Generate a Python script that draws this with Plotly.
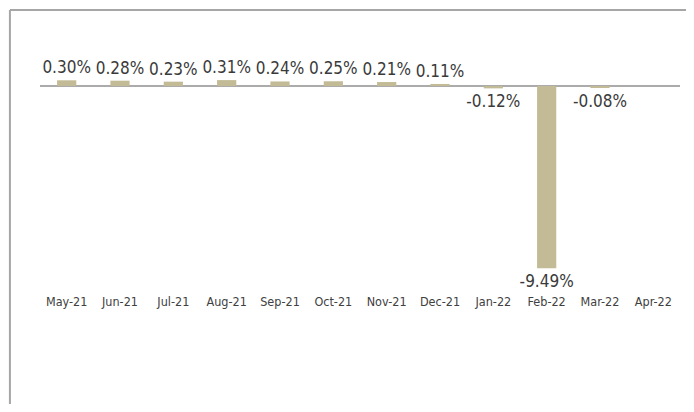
import plotly.graph_objects as go

months = ["May-21", "Jun-21", "Jul-21", "Aug-21", "Sep-21", "Oct-21",
          "Nov-21", "Dec-21", "Jan-22", "Feb-22", "Mar-22", "Apr-22"]
changes = [0.30, 0.28, 0.23, 0.31, 0.24, 0.25, 0.21, 0.11, -0.12, -9.49, -0.08, None]
labels = ["" if v is None else f"{v:.2f}%" for v in changes]

bar_color = "#c2bb95"
label_font = "DejaVu Sans Condensed"
border = dict(color="#a6a6a6", width=2)

fig = go.Figure()
fig.add_trace(go.Bar(
    x=months, y=changes,
    marker=dict(color=bar_color, line=dict(width=0)),
    width=0.36,
    text=labels,
    textposition="outside",
    constraintext="none",
    textfont=dict(family=label_font, size=17, color="#3a3a3a"),
    cliponaxis=False,
))

fig.update_layout(
    width=678, height=396,
    margin=dict(l=32, r=6, t=32, b=112),
    paper_bgcolor="white", plot_bgcolor="white",
    showlegend=False,
    xaxis=dict(showgrid=False, showline=False, ticks="",
               tickfont=dict(family=label_font, size=12.5, color="#404040"),
               fixedrange=True),
    yaxis=dict(range=[-10.73, 2.4], showgrid=False, showticklabels=False,
               zeroline=True, zerolinecolor="#ababab", zerolinewidth=2,
               fixedrange=True),
    shapes=[
        dict(type="line", xref="paper", yref="paper",
             x0=-0.047, x1=1.2, y0=1.119, y1=1.119, line=border),
        dict(type="line", xref="paper", yref="paper",
             x0=-0.047, x1=-0.047, y0=-0.7, y1=1.119, line=border),
    ],
)

fig.write_html("out.html")
